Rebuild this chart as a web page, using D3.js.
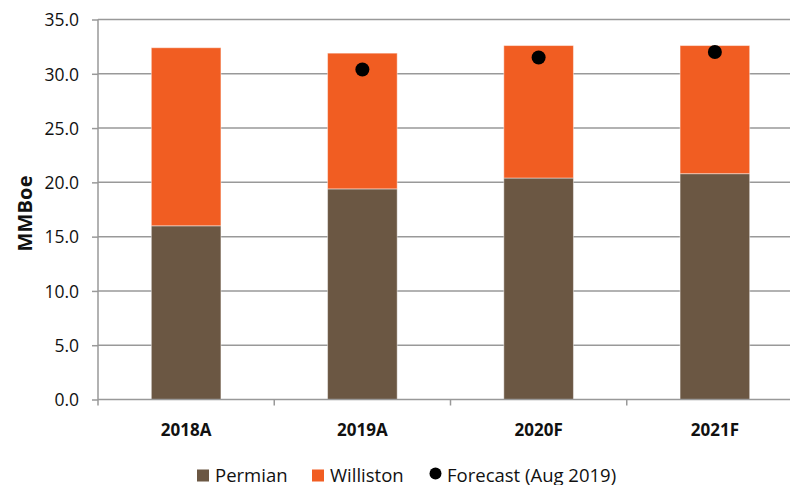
<!DOCTYPE html>
<html>
<head>
<meta charset="utf-8">
<script src="https://cdn.jsdelivr.net/npm/d3@7"></script>
<style>
  html, body { margin: 0; padding: 0; background: #fff; }
  svg { display: block; font-family: "Open Sans", "Noto Sans", sans-serif; }
</style>
</head>
<body>
<svg id="chart" width="790" height="485"></svg>
<script>
// Production by basin, MMBoe
const categories = ["2018A", "2019A", "2020F", "2021F"];
const permian = [16.0, 19.4, 20.4, 20.8];
const williston = [16.4, 12.5, 12.2, 11.8];
const forecast = [null, 30.4, 31.5, 32.0];
const yTicks = [0, 5, 10, 15, 20, 25, 30, 35];
const seriesNames = ["Permian", "Williston", "Forecast (Aug 2019)"];

const colors = { Permian: "#6b5743", Williston: "#f15d22", Forecast: "#000000" };

const svg = d3.select("#chart");
const plotLeft = 98, plotRight = 803, plotTop = 19.5, plotBottom = 399.5;

const x = d3.scaleBand().domain(categories).range([plotLeft, plotRight])
  .paddingInner(0.605).paddingOuter(0.3025);
const step = x.step();
const y = d3.scaleLinear().domain([0, 35]).range([plotBottom, plotTop]);

// gridlines
svg.append("g").selectAll("line").data(yTicks.filter(d => d > 0)).join("line")
  .attr("x1", plotLeft).attr("x2", plotRight)
  .attr("y1", d => y(d)).attr("y2", d => y(d))
  .attr("stroke", "#999").attr("stroke-width", 1.5);

// stacked bars
const rows = categories.map((c, i) => ({ cat: c, Permian: permian[i], Williston: williston[i] }));
const stack = d3.stack().keys(["Permian", "Williston"])(rows);
svg.append("g").selectAll("g").data(stack).join("g")
  .attr("fill", d => colors[d.key])
  .selectAll("rect").data(d => d).join("rect")
  .attr("x", d => x(d.data.cat))
  .attr("width", x.bandwidth())
  .attr("y", d => y(d[1]))
  .attr("height", d => y(d[0]) - y(d[1]))
  .attr("stroke", "rgba(255,255,255,0.45)").attr("stroke-width", 1);

// forecast points
svg.append("g").selectAll("circle")
  .data(categories.map((c, i) => ({ cat: c, v: forecast[i] })).filter(d => d.v != null))
  .join("circle")
  .attr("cx", d => x(d.cat) + x.bandwidth() / 2)
  .attr("cy", d => y(d.v))
  .attr("r", 7)
  .attr("fill", colors.Forecast);

// y axis
const yAxis = svg.append("g").attr("transform", `translate(${plotLeft},0)`)
  .call(d3.axisLeft(y).tickValues(yTicks).tickFormat(d3.format(".1f")).tickSize(6).tickSizeOuter(0));
yAxis.select(".domain").remove();
yAxis.append("line").attr("x1", 0).attr("x2", 0).attr("y1", plotTop).attr("y2", plotBottom + 6)
  .attr("stroke", "#999").attr("stroke-width", 1.5);
yAxis.selectAll(".tick line").attr("stroke", "#999").attr("stroke-width", 1.5);
yAxis.selectAll(".tick text").attr("x", -19).attr("dy", "0.36em")
  .attr("font-size", 17.5).attr("fill", "#111")
  .attr("font-family", "'Open Sans', sans-serif");

// x axis baseline, boundary ticks and labels
const xg = svg.append("g");
xg.append("line").attr("x1", plotLeft).attr("x2", plotRight).attr("y1", plotBottom).attr("y2", plotBottom)
  .attr("stroke", "#999").attr("stroke-width", 1.5);
xg.selectAll("line.b").data(categories.slice(1)).join("line").attr("class", "b")
  .attr("x1", d => x(d) - (step - x.bandwidth()) / 2).attr("x2", d => x(d) - (step - x.bandwidth()) / 2)
  .attr("y1", plotBottom).attr("y2", plotBottom + 6)
  .attr("stroke", "#999").attr("stroke-width", 1.5);
xg.selectAll("text").data(categories).join("text")
  .attr("x", d => x(d) + x.bandwidth() / 2)
  .attr("y", 436)
  .attr("text-anchor", "middle")
  .attr("font-size", 17).attr("font-weight", "bold").attr("fill", "#111")
  .text(d => d);

// y title
svg.append("text")
  .attr("transform", `translate(32,213.5) rotate(-90)`)
  .attr("text-anchor", "middle")
  .attr("font-size", 20).attr("font-weight", "bold").attr("fill", "#111")
  .attr("textLength", 76).attr("lengthAdjust", "spacing")
  .text("MMBoe");

// legend
const lg = svg.append("g");
const items = [
  { name: seriesNames[0], type: "rect", color: colors.Permian, x: 197 },
  { name: seriesNames[1], type: "rect", color: colors.Williston, x: 312 },
  { name: seriesNames[2], type: "circle", color: colors.Forecast, x: 429 }
];
items.forEach(it => {
  if (it.type === "rect") {
    lg.append("rect").attr("x", it.x).attr("y", 469.5).attr("width", 12).attr("height", 12).attr("fill", it.color);
  } else {
    lg.append("circle").attr("cx", it.x + 6.5).attr("cy", 473.5).attr("r", 6).attr("fill", it.color);
  }
  lg.append("text").attr("x", it.x + 18).attr("y", 481.5)
    .attr("font-size", 18.5).attr("fill", "#111").text(it.name);
});
</script>
</body>
</html>
